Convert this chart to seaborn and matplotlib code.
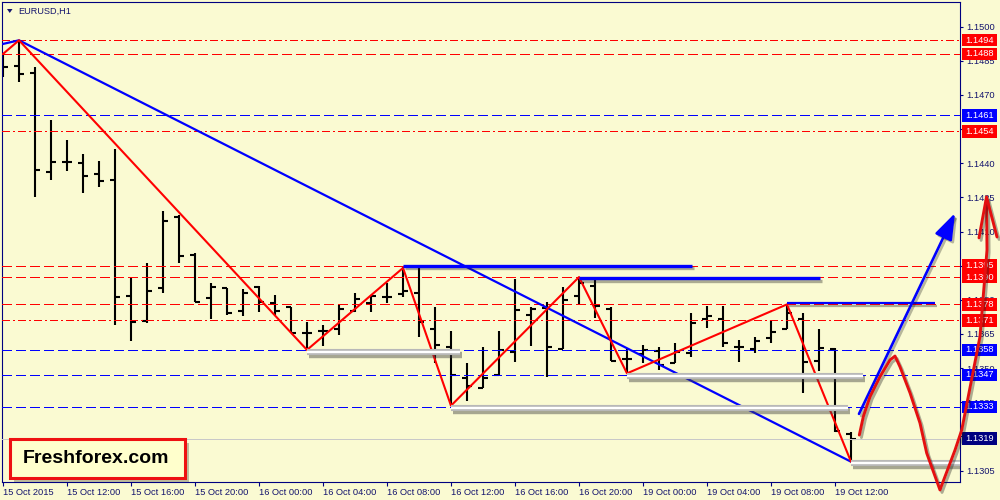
import numpy as np
import pandas as pd
import seaborn as sns
import matplotlib
matplotlib.use("Agg")
import matplotlib.pyplot as plt
import matplotlib.patheffects as pe
import matplotlib.transforms as mtransforms
from matplotlib.patches import Rectangle, Polygon

# ---------------- data ----------------
symbol = "EURUSD,H1"
brand = "Freshforex.com"

time_label_bars = [0, 4, 8, 12, 16, 20, 24, 28, 32, 36, 40, 44, 48, 52]
time_labels = ["15 Oct 2015", "15 Oct 12:00", "15 Oct 16:00", "15 Oct 20:00",
               "16 Oct 00:00", "16 Oct 04:00", "16 Oct 08:00", "16 Oct 12:00",
               "16 Oct 16:00", "16 Oct 20:00", "19 Oct 00:00", "19 Oct 04:00",
               "19 Oct 08:00", "19 Oct 12:00"]

opens = [1.14854, 1.14828, 1.14798, 1.14363, 1.14404, 1.14400, 1.14351, 1.14326, 1.13818, 1.13708,
         1.13853, 1.14163, 1.13997, 1.13807, 1.13851, 1.13751, 1.13858, 1.13785, 1.13767, 1.13656,
         1.13663, 1.13672, 1.13751, 1.13785, 1.13814, 1.13824, 1.13829, 1.13671, 1.13591, 1.13458,
         1.13414, 1.13470, 1.13572, 1.13733, 1.13763, 1.13583, 1.13817, 1.13861, 1.13760, 1.13540,
         1.13562, 1.13577, 1.13524, 1.13565, 1.13714, 1.13716, 1.13594, 1.13584, 1.13634, 1.13672,
         1.13716, 1.13533, 1.13584, 1.13210]
highs = [1.14880, 1.14940, 1.14821, 1.14590, 1.14502, 1.14441, 1.14410, 1.14463, 1.13899, 1.13960,
         1.14190, 1.14173, 1.14007, 1.13873, 1.13851, 1.13846, 1.13861, 1.13821, 1.13770, 1.13704,
         1.13690, 1.13777, 1.13829, 1.13821, 1.13875, 1.13943, 1.13943, 1.13770, 1.13663, 1.13521,
         1.13591, 1.13663, 1.13890, 1.13770, 1.13789, 1.13858, 1.13895, 1.13887, 1.13770, 1.13583,
         1.13602, 1.13591, 1.13609, 1.13741, 1.13773, 1.13773, 1.13624, 1.13638, 1.13711, 1.13782,
         1.13741, 1.13671, 1.13587, 1.13221]
lows = [1.14779, 1.14758, 1.14250, 1.14326, 1.14367, 1.14271, 1.14297, 1.13689, 1.13620, 1.13700,
        1.13829, 1.13960, 1.13789, 1.13717, 1.13733, 1.13730, 1.13748, 1.13733, 1.13653, 1.13587,
        1.13599, 1.13646, 1.13748, 1.13748, 1.13787, 1.13814, 1.13638, 1.13521, 1.13335, 1.13357,
        1.13414, 1.13470, 1.13528, 1.13597, 1.13460, 1.13583, 1.13780, 1.13719, 1.13533, 1.13477,
        1.13521, 1.13492, 1.13521, 1.13550, 1.13678, 1.13591, 1.13528, 1.13565, 1.13609, 1.13672,
        1.13390, 1.13489, 1.13221, 1.13089]
closes = [1.14823, 1.14793, 1.14370, 1.14407, 1.14404, 1.14345, 1.14322, 1.13814, 1.13703, 1.13840,
          1.14146, 1.13994, 1.13789, 1.13858, 1.13741, 1.13829, 1.13789, 1.13752, 1.13653, 1.13656,
          1.13663, 1.13758, 1.13802, 1.13817, 1.13814, 1.13840, 1.13704, 1.13602, 1.13470, 1.13423,
          1.13458, 1.13580, 1.13755, 1.13758, 1.13594, 1.13799, 1.13873, 1.13774, 1.13533, 1.13540,
          1.13580, 1.13514, 1.13572, 1.13697, 1.13730, 1.13612, 1.13594, 1.13620, 1.13660, 1.13743,
          1.13526, 1.13587, 1.13224, 1.13190]

ytick_values = [1.1305, 1.1320, 1.1335, 1.1350, 1.1365, 1.1380, 1.1395, 1.1410,
                1.1425, 1.1440, 1.1455, 1.1470, 1.1485, 1.1500]

level_prices = [1.1494, 1.1488, 1.1461, 1.1454, 1.1395, 1.1390, 1.1378, 1.1371,
                1.1358, 1.1347, 1.1333, 1.1319]
level_kinds = ["red_dd", "red_d", "blue_d", "red_dd", "red_d", "red_d", "red_d", "red_dd",
               "blue_d", "blue_d", "blue_d", "bid"]

zigzag_bars = [0, 1, 19, 25, 28, 36, 39, 49, 53]
zigzag_prices = [1.1488, 1.1494, 1.1358, 1.1394, 1.13335, 1.1390, 1.13477, 1.1378, 1.13089]

trend_bars = [0, 1, 53]
trend_prices = [1.14924, 1.1494, 1.13089]

res_start = [25, 36, 49]
res_end = [43.06, 51.06, 58.25]
res_price = [1.13949, 1.13895, 1.13785]

sup_start = [19, 28, 39, 53]
sup_end = [28.56, 52.8, 53.75, 59.8]
sup_price = [1.13572, 1.13326, 1.13465, 1.13085]

arrow_bars = [53.5, 59.5]
arrow_prices = [1.13299, 1.14181]

fc_bars = [53.52, 53.77, 54.19, 54.81, 55.44, 55.75, 56.06, 56.69, 57.31, 57.73,
           58.56, 59.5, 59.92, 61.06, 61.5, 61.47]
fc_prices = [1.13206, 1.13287, 1.13375, 1.13462, 1.13536, 1.13553, 1.13506, 1.13391,
             1.13259, 1.13127, 1.12965, 1.13140, 1.13228, 1.13638, 1.14019, 1.14252]
fc_head_bars = [61.0, 61.47, 62.125]
fc_head_prices = [1.14072, 1.14252, 1.14076]

# ---------------- style ----------------
BG = "#FAFAD2"
NAVY = "#14146E"
RED = "#FF0000"
BLUE = "#0000FF"

sns.set_theme(style="white")
plt.rcParams["font.family"] = ["Liberation Sans", "DejaVu Sans"]

fig = plt.figure(figsize=(10, 5), dpi=100, facecolor=BG)
ax = fig.add_axes([0.002, 0.036, 0.958, 0.96])
ax.set_facecolor(BG)
ax.set_xlim(-0.0625, 59.8125)
ax.set_ylim(1.129998, 1.151082)

df = pd.DataFrame({"bar": np.arange(len(opens)), "open": opens, "high": highs,
                   "low": lows, "close": closes})

# OHLC bars
ax.vlines(df["bar"], df["low"], df["high"], color="black", lw=1.5, zorder=2, capstyle="butt")
ax.hlines(df["open"], df["bar"] - 0.3, df["bar"], color="black", lw=1.5, zorder=2)
ax.hlines(df["close"], df["bar"], df["bar"] + 0.3, color="black", lw=1.5, zorder=2)

# horizontal levels
styles = {
    "red_dd": dict(color=RED, ls=(0, (7, 3, 2, 3))),
    "red_d": dict(color=RED, ls=(0, (10, 5))),
    "blue_d": dict(color=BLUE, ls=(0, (10, 5))),
    "bid": dict(color="#C8C8C8", ls="-"),
}
box_colors = {"red_dd": RED, "red_d": RED, "blue_d": BLUE, "bid": "#000080"}
for p, k in zip(level_prices, level_kinds):
    st = styles[k]
    ax.axhline(p, color=st["color"], linestyle=st["ls"], lw=0.72, zorder=3,
               antialiased=False)

# trendline and zigzag (seaborn)
sns.lineplot(x=trend_bars, y=trend_prices, ax=ax, color=BLUE, lw=1.6, sort=False, zorder=4)
sns.lineplot(x=zigzag_bars, y=zigzag_prices, ax=ax, color=RED, lw=1.5, sort=False, zorder=4)

# resistance lines
for s, e, p, w in zip(res_start, res_end, res_price, [2.4, 2.4, 1.6]):
    ax.plot([s, e], [p, p], color=BLUE, lw=w, solid_capstyle="butt", zorder=5,
            path_effects=[pe.SimpleLineShadow(offset=(1.5, -1.8), shadow_color="k", alpha=0.35),
                          pe.Normal()])

# support bars
for s, e, p in zip(sup_start, sup_end, sup_price):
    ax.plot([s, e], [p, p], color="white", lw=1.7, solid_capstyle="butt", zorder=5,
            path_effects=[pe.SimpleLineShadow(offset=(1.5, -2.2), shadow_color="#404040",
                                              alpha=0.45, linewidth=4.6),
                          pe.Stroke(linewidth=4.4, foreground="#B8B8B8"),
                          pe.Normal()])

# price labels on right
trans = mtransforms.blended_transform_factory(fig.transFigure, ax.transData)
px = 1.0 / 22766.0
for p, k in zip(level_prices, level_kinds):
    ax.add_patch(Rectangle((0.962, p - 6.2 * px), 0.035, 12.4 * px, transform=trans,
                           fc=box_colors[k], ec="none", clip_on=False, zorder=6))
    ax.text(0.9655, p, f"{p:.4f}", transform=trans, color="white", fontsize=6.7,
            va="center", ha="left", clip_on=False, zorder=7)

# forecast blue arrow
ax.annotate("", xy=(arrow_bars[1], arrow_prices[1]), xytext=(arrow_bars[0], arrow_prices[0]),
            arrowprops=dict(arrowstyle="-|>,head_length=0.8,head_width=0.28", color=BLUE,
                            lw=1.9, shrinkA=0, shrinkB=0, mutation_scale=20,
                            path_effects=[pe.SimpleLineShadow(offset=(1.5, -1.5), alpha=0.3),
                                          pe.Normal()]),
            annotation_clip=False, zorder=8)

# forecast red path
fc_shadow = [pe.SimpleLineShadow(offset=(1.5, -1.8), shadow_color="k", alpha=0.35), pe.Normal()]
ax.plot(fc_bars, fc_prices, color="#E41010", lw=2.1, clip_on=False, zorder=8,
        solid_joinstyle="round", path_effects=fc_shadow)
ax.plot(fc_head_bars, fc_head_prices, color="#E41010", lw=2.1, clip_on=False, zorder=8,
        solid_joinstyle="miter", path_effects=fc_shadow)

# axes styling
for sp in ax.spines.values():
    sp.set_color("#000080")
    sp.set_linewidth(0.8)
ax.yaxis.tick_right()
ax.set_yticks(ytick_values)
ax.set_yticklabels([f"{v:.4f}" for v in ytick_values])
ax.tick_params(axis="y", direction="out", length=2.5, width=0.8, colors="#000080",
               labelcolor=NAVY, labelsize=6.7, pad=2, right=True, left=False)
ax.set_xticks(time_label_bars)
ax.set_xticklabels(time_labels, ha="left")
ax.tick_params(axis="x", direction="out", length=3, width=0.8, colors="#000080",
               labelcolor=NAVY, labelsize=6.7, pad=1.5, bottom=True)
ax.set_xlabel("")
ax.set_ylabel("")
ax.grid(False)

# header
fig.text(0.0183, 1 - 11 / 500, symbol, fontsize=6.6, color=NAVY, va="center", ha="left")
fig.add_artist(Polygon([(7 / 1000, 1 - 9 / 500), (12.5 / 1000, 1 - 9 / 500),
                        (9.75 / 1000, 1 - 13 / 500)], closed=True, transform=fig.transFigure,
                       fc=NAVY, ec="none"))

# brand box
box = Rectangle((9.5 / 1000, 1 - 478 / 500), 175.5 / 1000, 39 / 500, transform=fig.transFigure,
                fc="#FFFFCC", ec="#EE1111", lw=2.2, zorder=10,
                path_effects=[pe.SimplePatchShadow(offset=(3, -3), alpha=0.35), pe.Normal()])
fig.add_artist(box)
fig.text(22.5 / 1000, 1 - 458.5 / 500, brand, fontsize=14, fontweight="bold", color="black",
         va="center", ha="left", zorder=11)

fig.savefig("out.png", dpi=100, facecolor=BG)
